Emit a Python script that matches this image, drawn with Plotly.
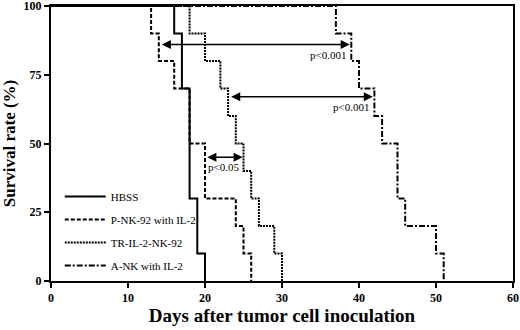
import plotly.graph_objects as go

# Kaplan-Meier step data (day of death event, survival %)
hbss_days = [0, 16, 17, 18, 19, 20]
hbss_surv = [100, 90, 70, 30, 10, 0]

pnk_days = [0, 13, 14, 16, 18, 20, 24, 25, 26]
pnk_surv = [100, 90, 80, 70, 50, 30, 20, 10, 0]

tr_days = [0, 18, 20, 22, 23, 24, 25, 26, 27, 29, 30]
tr_surv = [100, 90, 80, 70, 60, 50, 40, 30, 20, 10, 0]

ank_days = [0, 37, 39, 40, 42, 43, 45, 46, 50, 51]
ank_surv = [100, 90, 80, 70, 60, 50, 30, 20, 10, 0]

series_names = ["HBSS", "P-NK-92 with IL-2", "TR-IL-2-NK-92", "A-NK with IL-2"]
y_ticks = [0, 25, 50, 75, 100]
x_ticks = [0, 10, 20, 30, 40, 50, 60]

# comparison arrows: (x_start, x_end, y, label)
comparisons = [
    (14.2, 38.8, 86, "p<0.001"),
    (23.2, 41.8, 67, "p<0.001"),
    (20.1, 24.9, 45, "p<0.05"),
]

FONT = "Liberation Serif"
fig = go.Figure()
styles = [
    dict(dash="solid", width=2),
    dict(dash="4px,2px", width=2),
    dict(dash="2px,1px", width=2),
    dict(dash="6px,2px,2px,2px", width=2),
]
for (dx, sy), name, st in zip(
    [(hbss_days, hbss_surv), (pnk_days, pnk_surv), (tr_days, tr_surv), (ank_days, ank_surv)],
    series_names, styles):
    fig.add_trace(go.Scatter(x=dx, y=sy, mode="lines", name=name, legendgroup=name,
                             line=dict(shape="hv", color="black", **st)))

for x0, x1, yv, lab in comparisons:
    fig.add_annotation(x=x1, y=yv, ax=x0, ay=yv, xref="x", yref="y", axref="x", ayref="y",
                       text="", showarrow=True, arrowhead=2, arrowside="end+start",
                       arrowsize=1.4, arrowwidth=1.3, arrowcolor="black")
    fig.add_annotation(x=x1, y=yv, xref="x", yref="y", text=lab, showarrow=False,
                       xanchor="right", yanchor="top", yshift=-2, xshift=-2,
                       font=dict(family=FONT, size=11, color="black"))

axis_common = dict(showline=True, linecolor="black", linewidth=2, mirror=True,
                   ticks="outside", ticklen=5, tickwidth=2, tickcolor="black",
                   showgrid=False, zeroline=False, automargin=False,
                   ticklabeloverflow="allow",
                   tickfont=dict(family=FONT, size=12, color="black", weight="bold"))
fig.update_xaxes(range=[0, 60], tickvals=x_ticks, **axis_common,
                 title=dict(text="Days after tumor cell inoculation", standoff=3,
                            font=dict(family=FONT, size=19, color="black", weight="bold")))
fig.update_yaxes(range=[0, 100], tickvals=y_ticks, **axis_common,
                 title=dict(text="Survival rate (%)", standoff=10,
                            font=dict(family=FONT, size=17, color="black", weight="bold")))

fig.update_layout(
    width=520, height=330, margin=dict(l=51, r=7, t=6, b=49),
    plot_bgcolor="white", paper_bgcolor="white",
    legend=dict(x=0.019, y=0.36, xanchor="left", yanchor="top", bgcolor="rgba(0,0,0,0)",
                tracegroupgap=4, itemwidth=41,
                font=dict(family=FONT, size=11, color="black")),
)
fig.write_html("out.html", config={"displayModeBar": False},
               post_script="document.body.style.margin='0';document.body.style.overflow='hidden';")
